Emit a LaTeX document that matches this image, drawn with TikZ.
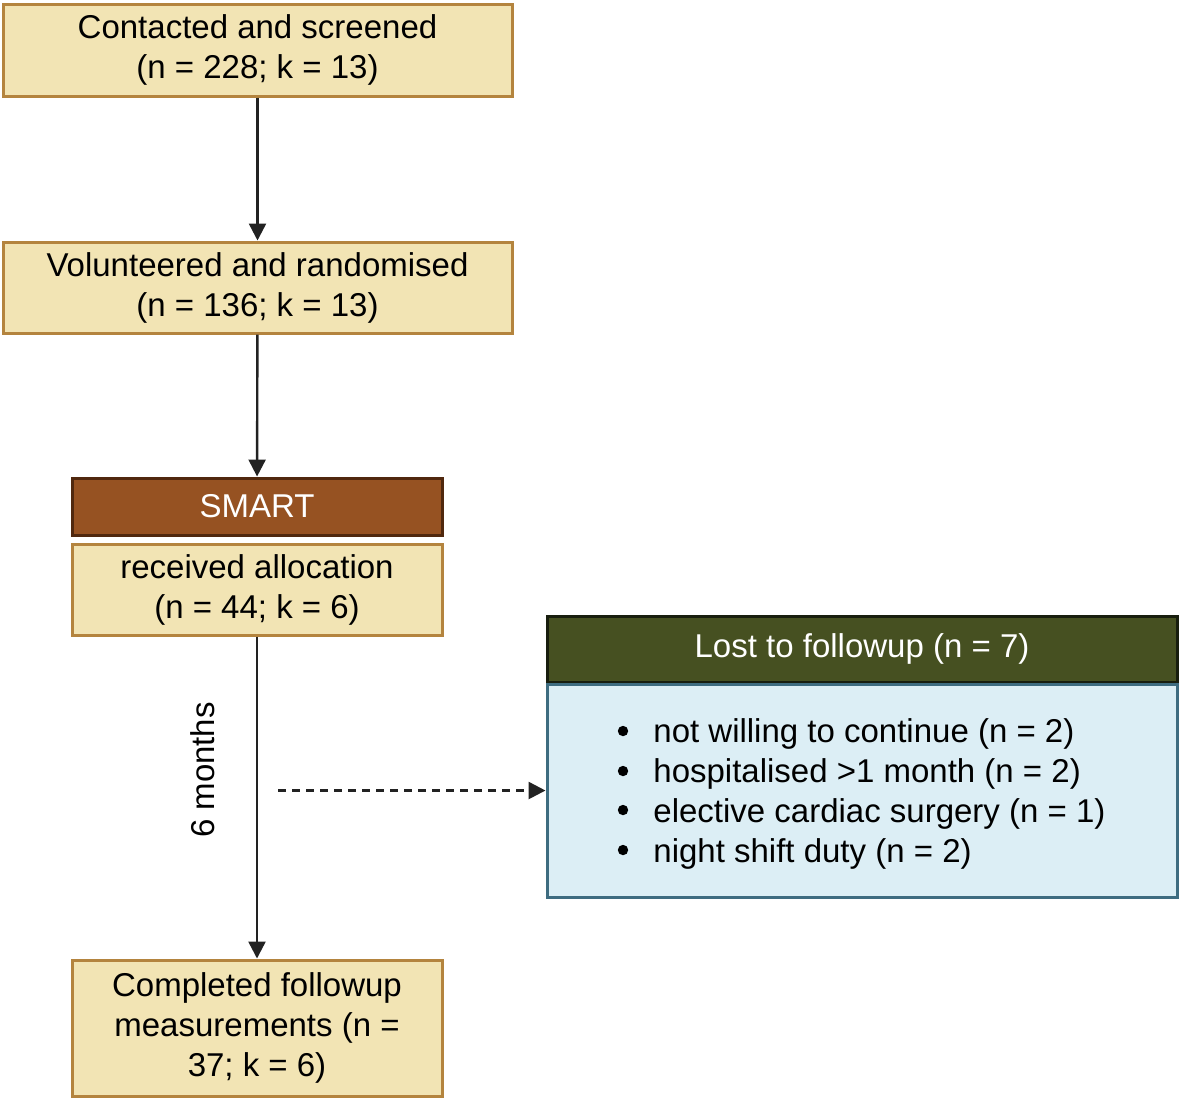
\documentclass[tikz,border=0pt]{standalone}
\usepackage{fontspec}
\setmainfont{Liberation Sans}
\usepackage{xcolor}
\usepackage{tikz}
\usetikzlibrary{positioning}
\usetikzlibrary{arrows.meta}

\definecolor{boxfill}{RGB}{242,228,180}
\definecolor{boxline}{RGB}{180,132,62}
\definecolor{smartfill}{RGB}{150,82,34}
\definecolor{smartline}{RGB}{80,40,14}
\definecolor{lostfill}{RGB}{70,80,33}
\definecolor{lostline}{RGB}{24,30,14}
\definecolor{listfill}{RGB}{220,238,245}
\definecolor{listline}{RGB}{62,108,128}
\definecolor{arrowgray}{RGB}{34,34,34}

\begin{document}
\begin{tikzpicture}[x=0.5pt, y=-0.5pt, font=\fontsize{16.5}{20}\selectfont,
        box/.style={draw=boxline, fill=boxfill, line width=1.5pt, align=center, inner sep=0pt},
        head/.style={line width=1.5pt, text=white, inner sep=0pt},
        flow/.style={-{Triangle[width=8.5pt,length=8.5pt]}, draw=arrowgray, line width=1.2pt}]
            \useasboundingbox (0,0) rectangle (1181,1100);

            \node [box, minimum width=254.5pt, minimum height=46pt] (screen) at (257.5,50)
                {Contacted and screened\\(n = 228; k = 13)};
            \node [box, minimum width=254.5pt, minimum height=45.5pt] (random) at (257.5,287.5)
                {Volunteered and randomised\\(n = 136; k = 13)};
            \node [head, draw=smartline, fill=smartfill, minimum width=185pt, minimum height=28.5pt] (smart) at (257,506.5) {SMART};
            \node [box, minimum width=185pt, minimum height=45.5pt, below=3pt of smart] (alloc)
                {received allocation\\(n = 44; k = 6)};
            \node [box, minimum width=185pt, minimum height=68pt] (done) at (257,1028)
                {Completed followup\\measurements (n =\\37; k = 6)};

            \node [head, draw=lostline, fill=lostfill, minimum width=315pt, minimum height=33pt] (lost) at (862,649)
                {Lost to followup (n = 7)};
            \node [draw=listline, fill=listfill, line width=1.5pt, minimum width=315pt, minimum height=106.5pt,
                below=-0.5pt of lost] (lostlist) {};
            \node [anchor=west, align=left, inner sep=0pt] (reasons) at (653,794)
                {not willing to continue (n = 2)\\
                 hospitalised >1 month (n = 2)\\
                 elective cardiac surgery (n = 1)\\
                 night shift duty (n = 2)};
            % bullets
            \foreach \by in {731,771,810,850}
                \fill (623,\by) circle (2.6pt);

            \node [rotate=90] (six) at (203,770) {6 months};
            \coordinate (gap) at (278,790.5);

            \draw [flow] (screen) -- (random);
            \draw [flow] (random) -- (smart);
            \draw [flow] (alloc) -- (done);
            \draw [flow, line width=1.3pt, dash pattern=on 4pt off 3pt] (gap) -- (lostlist.west);
        \end{tikzpicture}
\end{document}
